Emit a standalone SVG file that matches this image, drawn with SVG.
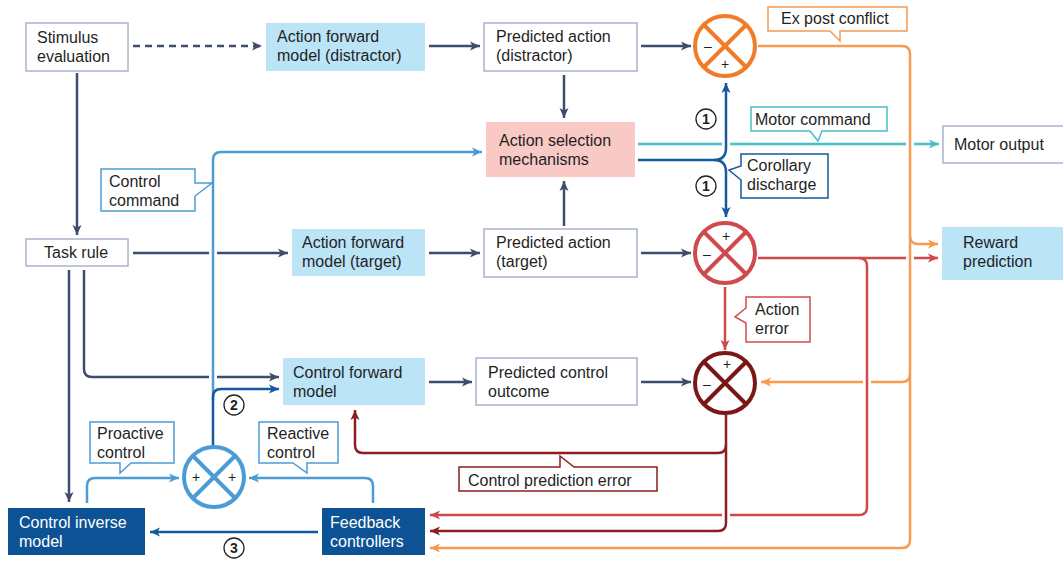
<svg xmlns="http://www.w3.org/2000/svg" width="1063" height="562" viewBox="0 0 1063 562">
<defs>
<style>
text{font-family:"Liberation Sans",Arial,sans-serif;font-size:16px;fill:#1f1f1f}
.box{fill:#fff;stroke:#a9b3d0;stroke-width:1.5}
.lb{fill:#bce4f7}
.pk{fill:#f8c9c5}
.db{fill:#0c5295}
.wt{fill:#fff}
.ln{fill:none;stroke-width:2.5}
.sl{stroke:#3e4d6e}
.lbl{stroke:#4b9cd6}
.dbl{stroke:#15599f}
.tl{stroke:#45c0c6}
.or{stroke:#f89b4f}
.rd{stroke:#cf4a4d}
.dr{stroke:#8a1f22}
.halo{fill:none;stroke:#fff;stroke-width:8}
.co{fill:#fff;stroke-width:1.5}
.sg{font-size:14px;text-anchor:middle}
.bd{fill:#fff;stroke:#222;stroke-width:1.3}
.bt{font-size:14px;font-weight:bold;text-anchor:middle}
</style>
<marker id="aSl" viewBox="0 0 10 10" refX="10" refY="5" markerUnits="userSpaceOnUse" markerWidth="10" markerHeight="10" orient="auto"><path d="M0,0.5 L10,5 L0,9.5 L2.5,5 z" fill="#3e4d6e"/></marker>
<marker id="aLb" viewBox="0 0 10 10" refX="10" refY="5" markerUnits="userSpaceOnUse" markerWidth="10" markerHeight="10" orient="auto"><path d="M0,0.5 L10,5 L0,9.5 L2.5,5 z" fill="#4b9cd6"/></marker>
<marker id="aDb" viewBox="0 0 10 10" refX="10" refY="5" markerUnits="userSpaceOnUse" markerWidth="10" markerHeight="10" orient="auto"><path d="M0,0.5 L10,5 L0,9.5 L2.5,5 z" fill="#15599f"/></marker>
<marker id="aTl" viewBox="0 0 10 10" refX="10" refY="5" markerUnits="userSpaceOnUse" markerWidth="10" markerHeight="10" orient="auto"><path d="M0,0.5 L10,5 L0,9.5 L2.5,5 z" fill="#45c0c6"/></marker>
<marker id="aOr" viewBox="0 0 10 10" refX="10" refY="5" markerUnits="userSpaceOnUse" markerWidth="10" markerHeight="10" orient="auto"><path d="M0,0.5 L10,5 L0,9.5 L2.5,5 z" fill="#f89b4f"/></marker>
<marker id="aRd" viewBox="0 0 10 10" refX="10" refY="5" markerUnits="userSpaceOnUse" markerWidth="10" markerHeight="10" orient="auto"><path d="M0,0.5 L10,5 L0,9.5 L2.5,5 z" fill="#cf4a4d"/></marker>
<marker id="aDr" viewBox="0 0 10 10" refX="10" refY="5" markerUnits="userSpaceOnUse" markerWidth="10" markerHeight="10" orient="auto"><path d="M0,0.5 L10,5 L0,9.5 L2.5,5 z" fill="#8a1f22"/></marker>
</defs>
<rect width="1063" height="562" fill="#fff"/>

<g id="connectors">
<!-- slate -->
<path class="ln sl" d="M133 46 H262" stroke-dasharray="7 5" marker-end="url(#aSl)"/>
<path class="ln sl" d="M429 46 H480" marker-end="url(#aSl)"/>
<path class="ln sl" d="M641 46 H691" marker-end="url(#aSl)"/>
<path class="ln sl" d="M564 75 V118" marker-end="url(#aSl)"/>
<path class="ln sl" d="M77 73 V235" marker-end="url(#aSl)"/>
<path class="ln sl" d="M133 253 H288" marker-end="url(#aSl)"/>
<path class="ln sl" d="M429 253 H480" marker-end="url(#aSl)"/>
<path class="ln sl" d="M641 253 H691" marker-end="url(#aSl)"/>
<path class="ln sl" d="M564 226 V181" marker-end="url(#aSl)"/>
<path class="ln sl" d="M69 270 V502" marker-end="url(#aSl)"/>
<path class="ln sl" d="M84 270 V369 Q84 377 92 377 H279" marker-end="url(#aSl)"/>
<path class="ln sl" d="M641 382 H691" marker-end="url(#aSl)"/>
<path class="ln sl" d="M429 382 H472" marker-end="url(#aSl)"/>
<!-- light blue -->
<path class="halo" d="M213 247 V259 M213 371 V383"/>
<path class="ln lbl" d="M213 400 V160 Q213 152 221 152 H482" marker-end="url(#aLb)"/>
<path class="ln lbl" d="M87 503 V486 Q87 478 95 478 H179" marker-end="url(#aLb)"/>
<path class="ln lbl" d="M373 503 V486 Q373 478 365 478 H249" marker-end="url(#aLb)"/>
<!-- dark blue -->
<path class="ln dbl" d="M213 446 V397 Q213 389 221 389 H279" marker-end="url(#aDb)"/>
<path class="ln dbl" d="M318 532 H150" marker-end="url(#aDb)"/>
<!-- teal -->
<path class="ln tl" d="M638 144 H939" marker-end="url(#aTl)"/>
<!-- corollary -->
<path class="halo" d="M726 138 V150"/>
<path class="ln dbl" d="M638 160 H714 Q726 160 726 148 V83" marker-end="url(#aDb)"/>
<path class="ln dbl" d="M714 160 Q726 160 726 172 V217" marker-end="url(#aDb)"/>
<!-- red -->
<path class="ln rd" d="M758 258 H938" marker-end="url(#aRd)"/>
<path class="ln rd" d="M725 287 V350" marker-end="url(#aRd)"/>
<!-- orange -->
<path class="halo" d="M910 138 V150 M910 252 V264"/>
<path class="ln or" d="M758 46 H902 Q910 46 910 54 V540 Q910 548 902 548 H430" marker-end="url(#aOr)"/>
<path class="ln or" d="M910 236 Q910 244 918 244 H938" marker-end="url(#aOr)"/>
<path class="ln or" d="M910 374 Q910 382 902 382 H761" marker-end="url(#aOr)"/>
<!-- red return -->
<path class="halo" d="M867 376 V388"/>
<path class="ln rd" d="M859 258 Q867 258 867 266 V507 Q867 515 859 515 H430" marker-end="url(#aRd)"/>
<!-- dark red -->
<path class="halo" d="M726 509 V521"/>
<path class="ln dr" d="M726 415 V523 Q726 531 718 531 H430" marker-end="url(#aDr)"/>
<path class="ln dr" d="M726 445 Q726 453 718 453 H363 Q355 453 355 445 V410" marker-end="url(#aDr)"/>
</g>

<g id="stimulus-evaluation"><rect class="box" x="26" y="23" width="102" height="48"/><text x="37" y="43">Stimulus</text><text x="37" y="62">evaluation</text></g>
<g id="afm-distractor"><rect class="lb" x="266" y="23" width="159" height="48"/><text x="277" y="42">Action forward</text><text x="277" y="61">model (distractor)</text></g>
<g id="pa-distractor"><rect class="box" x="484" y="23" width="153" height="48"/><text x="496" y="42">Predicted action</text><text x="496" y="61">(distractor)</text></g>
<g id="sum-conflict">
<circle cx="725" cy="46" r="30" fill="#fff" stroke="#f07c28" stroke-width="4"/>
<path d="M704 25 L746 67 M746 25 L704 67" stroke="#f07c28" stroke-width="4"/>
<text class="sg" x="708" y="51">–</text><text class="sg" x="725" y="69">+</text>
</g>
<g id="callout-expost"><path class="co" stroke="#f89b4f" d="M768 7 H907 V31 H840 V41 L830 31 H768 Z"/><text x="781" y="24">Ex post conflict</text></g>
<g id="action-selection"><rect class="pk" x="486" y="122" width="149" height="55"/><text x="499" y="146">Action selection</text><text x="499" y="165">mechanisms</text></g>
<g id="callout-motor"><path class="co" stroke="#45c0c6" d="M751 107 H887 V131 H822 L818 141 L810 131 H751 Z"/><text x="755" y="125">Motor command</text></g>
<g id="motor-output"><rect class="box" x="943" y="126" width="125" height="37"/><text x="954" y="150">Motor output</text></g>
<g id="callout-corollary"><path class="co" stroke="#15599f" d="M741 154 H828 V198 H741 V180 L729 170 L741 166 Z"/><text x="747" y="171">Corollary</text><text x="747" y="190">discharge</text></g>
<g id="badge-1a"><circle class="bd" cx="706" cy="119" r="10"/><text class="bt" x="706" y="124">1</text></g>
<g id="badge-1b"><circle class="bd" cx="706" cy="186" r="10"/><text class="bt" x="706" y="191">1</text></g>
<g id="callout-control-command"><path class="co" stroke="#4b9cd6" d="M101 169 H195 V183 H212 L195 196 V211 H101 Z"/><text x="109" y="187">Control</text><text x="109" y="206">command</text></g>
<g id="task-rule"><rect class="box" x="26" y="239" width="102" height="27"/><text x="44" y="258">Task rule</text></g>
<g id="afm-target"><rect class="lb" x="292" y="229" width="133" height="47"/><text x="302" y="248">Action forward</text><text x="302" y="267">model (target)</text></g>
<g id="pa-target"><rect class="box" x="484" y="229" width="153" height="48"/><text x="496" y="248">Predicted action</text><text x="496" y="267">(target)</text></g>
<g id="sum-action">
<circle cx="725" cy="253" r="30" fill="#fff" stroke="#cf4a4d" stroke-width="4"/>
<path d="M704 232 L746 274 M746 232 L704 274" stroke="#cf4a4d" stroke-width="4"/>
<text class="sg" x="726" y="241">+</text><text class="sg" x="707" y="259">–</text>
</g>
<g id="reward-prediction"><rect class="lb" x="942" y="227" width="126" height="53"/><text x="963" y="248">Reward</text><text x="963" y="267">prediction</text></g>
<g id="callout-action-error"><path class="co" stroke="#cf4a4d" d="M746 297 H810 V342 H746 V323 L735 317 L746 308 Z"/><text x="755" y="315">Action</text><text x="755" y="334">error</text></g>
<g id="control-forward-model"><rect class="lb" x="283" y="358" width="142" height="47"/><text x="293" y="378">Control forward</text><text x="293" y="397">model</text></g>
<g id="predicted-control-outcome"><rect class="box" x="476" y="358" width="161" height="47"/><text x="488" y="378">Predicted control</text><text x="488" y="397">outcome</text></g>
<g id="sum-control">
<circle cx="725" cy="383" r="30" fill="#fff" stroke="#7a1717" stroke-width="4"/>
<path d="M704 362 L746 404 M746 362 L704 404" stroke="#7a1717" stroke-width="4"/>
<text class="sg" x="727" y="369">+</text><text class="sg" x="707" y="389">–</text>
</g>
<g id="callout-cpe"><path class="co" stroke="#8a1f22" d="M459 467 H560 V456 L574 467 H657 V491 H459 Z"/><text x="468" y="486">Control prediction error</text></g>
<g id="badge-2"><circle class="bd" cx="234" cy="405" r="10"/><text class="bt" x="234" y="410">2</text></g>
<g id="callout-proactive"><path class="co" stroke="#4b9cd6" d="M90 422 H174 V463 H131 L120 473 V463 H90 Z"/><text x="97" y="439">Proactive</text><text x="97" y="458">control</text></g>
<g id="callout-reactive"><path class="co" stroke="#4b9cd6" d="M259 422 H338 V463 H307 V473 L293 463 H259 Z"/><text x="267" y="439">Reactive</text><text x="267" y="458">control</text></g>
<g id="sum-proactive-reactive">
<circle cx="214" cy="477" r="30" fill="#fff" stroke="#4b9cd6" stroke-width="4"/>
<path d="M193 456 L235 498 M235 456 L193 498" stroke="#4b9cd6" stroke-width="4"/>
<text class="sg" x="196" y="482">+</text><text class="sg" x="232" y="482">+</text>
</g>
<g id="control-inverse-model"><rect class="db" x="8" y="508" width="137" height="47"/><text class="wt" x="19" y="528">Control inverse</text><text class="wt" x="19" y="547">model</text></g>
<g id="feedback-controllers"><rect class="db" x="322" y="508" width="103" height="47"/><text class="wt" x="330" y="528">Feedback</text><text class="wt" x="330" y="547">controllers</text></g>
<g id="badge-3"><circle class="bd" cx="234" cy="548" r="10"/><text class="bt" x="234" y="553">3</text></g>
</svg>
